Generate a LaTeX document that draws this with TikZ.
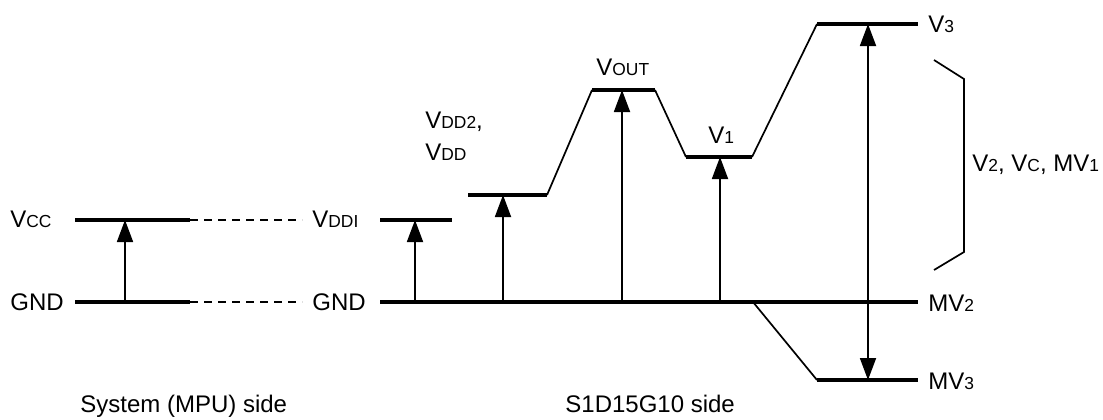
\documentclass[tikz,border=0pt]{standalone}
\usepackage{fontspec}
\setmainfont{Liberation Sans}
\usetikzlibrary{arrows.meta}
\newcommand{\lo}[1]{{\fontsize{8.7}{10}\selectfont #1}}

\begin{document}
\begin{tikzpicture}[
    x=0.5pt,y=-0.5pt,
    level/.style={line width=1.6pt},
    ramp/.style={line width=0.85pt},
    link/.style={dash pattern=on 4pt off 3pt,line width=0.6pt},
    arr/.style={-{Triangle[length=11pt,width=8pt]},line width=0.9pt},
    darr/.style={{Triangle[length=11pt,width=8pt]}-{Triangle[length=11pt,width=8pt]},line width=0.9pt},
    lbl/.style={anchor=base west,inner sep=0pt,font=\fontsize{12}{14}\selectfont}
  ]
    \useasboundingbox (0,0) rectangle (1103,419);

    % system side
    \coordinate (vccL) at (75,220);   \coordinate (vccR) at (190,220);
    \coordinate (gndL) at (75,302);   \coordinate (gndR) at (190,302);
    \coordinate (vccA) at (125,220);  \coordinate (gndA) at (125,302);
    \coordinate (vccD) at (302,220);  \coordinate (gndD) at (302,302);

    \node[lbl] (vcc) at (10,227) {V\lo{CC}};
    \node[lbl] (gnd) at (10,310) {GND};

    \draw[level] (vccL) -- (vccR);
    \draw[level] (gndL) -- (gndR);
    \draw[link] (vccR) -- (vccD);
    \draw[link] (gndR) -- (gndD);
    \draw[arr] (gndA) -- (vccA);

    % driver side
    \node[lbl] (vddi) at (312,227) {V\lo{DDI}};
    \node[lbl] (gnd2) at (312,310) {GND};

    \coordinate (ddiL) at (380,220);  \coordinate (ddiR) at (452,220);
    \coordinate (baseL) at (380,302); \coordinate (baseR) at (918,302);
    \coordinate (vddL) at (468,195);  \coordinate (vddR) at (547,195);
    \coordinate (outL) at (592,90);   \coordinate (outR) at (655,90);
    \coordinate (v1L) at (686,157);   \coordinate (v1R) at (752,157);
    \coordinate (v3L) at (817,24);    \coordinate (v3R) at (918,24);
    \coordinate (mv3T) at (753,302);
    \coordinate (mv3L) at (817,380);  \coordinate (mv3R) at (918,380);

    \draw[level] (ddiL) -- (ddiR);
    \draw[level] (baseL) -- (baseR);
    \draw[level] (vddL) -- (vddR);
    \draw[level] (outL) -- (outR);
    \draw[level] (v1L) -- (v1R);
    \draw[level] (v3L) -- (v3R);
    \draw[level] (mv3L) -- (mv3R);
    \draw[ramp] (vddR) -- (outL);
    \draw[ramp] (outR) -- (v1L);
    \draw[ramp] (v1R) -- (v3L);
    \draw[ramp] (mv3T) -- (mv3L);

    \draw[arr] (415,302) -- (415,220);
    \draw[arr] (503,302) -- (503,195);
    \draw[arr] (622,302) -- (622,90);
    \draw[arr] (720,302) -- (720,157);
    \draw[darr] (868,380) -- (868,24);

    \node[lbl] (vdd2) at (425,128) {V\lo{DD2},};
    \node[lbl] (vdd) at (425,160) {V\lo{DD}};
    \node[lbl] (vout) at (596,75) {V\lo{OUT}};
    \node[lbl] (v1) at (708,143) {V\lo{1}};
    \node[lbl] (v3) at (928,32) {V\lo{3}};
    \node[lbl] (mv2) at (928,311) {MV\lo{2}};
    \node[lbl] (mv3) at (928,389) {MV\lo{3}};

    % bracket
    \coordinate (brT) at (934,60);  \coordinate (brB) at (934,270);
    \draw[ramp] (brT) -- (964,79) -- (964,252) -- (brB);
    \node[lbl] (mid) at (972,171) {V\lo{2}, V\lo{C}, MV\lo{1}};

    \node[lbl] (sys) at (80,412) {System (MPU) side};
    \node[lbl] (chip) at (565,412) {S1D15G10 side};
  \end{tikzpicture}
\end{document}
